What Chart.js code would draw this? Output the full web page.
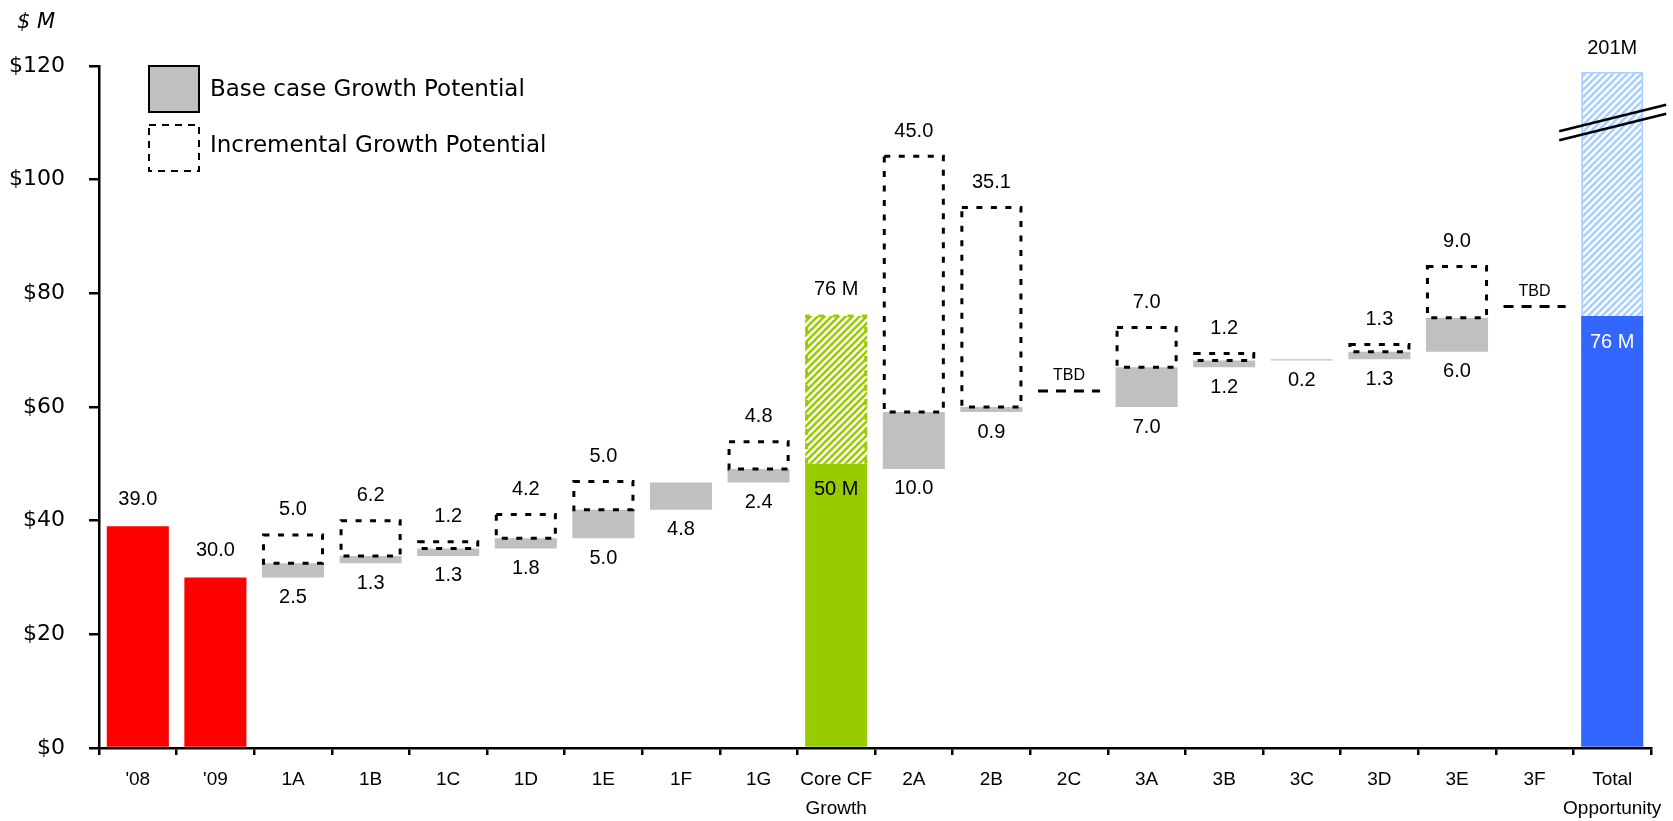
<!DOCTYPE html>
<html>
<head>
<meta charset="utf-8">
<script src="https://cdn.jsdelivr.net/npm/chart.js@4/dist/chart.umd.min.js"></script>
<style>
  html, body { margin: 0; padding: 0; background: #ffffff; }
  #wrap { width: 1673px; height: 821px; }
</style>
</head>
<body>
<div id="wrap"><canvas id="chart" width="1673" height="821"></canvas></div>
<script>
// Categories along the x axis ("\n" splits a label over two lines)
const categories = ["'08", "'09", "1A", "1B", "1C", "1D", "1E", "1F", "1G", "Core CF\nGrowth",
  "2A", "2B", "2C", "3A", "3B", "3C", "3D", "3E", "3F", "Total\nOpportunity"];

// Solid totals ($M): historical years, core cash-flow growth, total opportunity base
const reportedTotals = [39.0, 30.0, null, null, null, null, null, null, null, 50,
  null, null, null, null, null, null, null, null, null, 76];

// Base case growth potential per initiative ($M)
const baseCaseGrowth = [null, null, 2.5, 1.3, 1.3, 1.8, 5.0, 4.8, 2.4, null,
  10.0, 0.9, null, 7.0, 1.2, 0.2, 1.3, 6.0, null, null];

// Incremental growth potential on top of the base case ($M)
const incrementalGrowth = [null, null, 5.0, 6.2, 1.2, 4.2, 5.0, null, 4.8, null,
  45.0, 35.1, null, 7.0, 1.2, null, 1.3, 9.0, null, null];

// Full potential including incremental upside ($M)
const potentialTotals = [null, null, null, null, null, null, null, null, null, 76,
  null, null, null, null, null, null, null, null, null, 201];

// Initiatives whose size is still to be determined (marker level, $M)
const tbdLevels = [null, null, null, null, null, null, null, null, null, null,
  null, null, 62.8, null, null, null, null, null, 77.7, null];

// Y axis tick values
const yTicks = [0, 20, 40, 60, 80, 100, 120];

const AXIS_MAX = 120;
const BREAK_TOP = 119;   // broken bars stop just under the axis top
const BREAK_MARK = 110;  // where the break symbol crosses the bar

// Waterfall ranges: base case steps run on from the '09 level
let level = reportedTotals[1];
const baseRanges = baseCaseGrowth.map(v => {
  if (v == null) return null;
  const r = [level, level + v];
  level += v;
  return r;
});
const incRanges = incrementalGrowth.map((v, i) => v == null ? null : [baseRanges[i][1], baseRanges[i][1] + v]);
const upsideRanges = potentialTotals.map((v, i) => v == null ? null : [reportedTotals[i], Math.min(v, BREAK_TOP)]);
const tbdRanges = tbdLevels.map(v => v == null ? null : [v, v]);

function stripePattern(fg, size, lw) {
  const c = document.createElement('canvas');
  c.width = size; c.height = size;
  const g = c.getContext('2d');
  g.fillStyle = '#ffffff';
  g.fillRect(0, 0, size, size);
  g.strokeStyle = fg;
  g.lineWidth = lw;
  g.beginPath();
  for (let k = -1; k <= 1; k++) {
    g.moveTo(k * size - 1, size + 1);
    g.lineTo(k * size + size + 1, -1);
  }
  g.stroke();
  return g.createPattern(c, 'repeat');
}

const RED = '#ff0000', GREEN = '#99cc00', BLUE = '#3366ff', LIGHT_BLUE = '#a6d0ff', GRAY = '#c0c0c0';
const greenHatch = stripePattern(GREEN, 7, 2.6);
const blueHatch = stripePattern(LIGHT_BLUE, 7, 2.6);

const solidColors = reportedTotals.map((v, i) => i < 2 ? RED : (i === 9 ? GREEN : BLUE));
const upsideFill = potentialTotals.map((v, i) => i === 9 ? greenHatch : blueHatch);
const upsideBorder = potentialTotals.map((v, i) => i === 9 ? 'rgba(0,0,0,0)' : LIGHT_BLUE);
const upsideBorderWidth = potentialTotals.map((v, i) => i === 9 ? 0 : 2);

const LABEL_FONT = '20px "Liberation Sans", Arial, sans-serif';

const waterfallMarks = {
  id: 'waterfallMarks',
  afterDatasetsDraw(chart) {
    const ctx = chart.ctx;
    const ys = chart.scales.y;
    const props = el => el.getProps(['x', 'y', 'base', 'width'], true);
    ctx.save();

    // Incremental potential: dotted outline boxes
    const incMeta = chart.getDatasetMeta(2);
    ctx.strokeStyle = '#000000';
    ctx.lineWidth = 3;
    ctx.setLineDash([6, 8.5]);
    incRanges.forEach((r, i) => {
      if (!r) return;
      const p = props(incMeta.data[i]);
      const t = Math.min(p.y, p.base), h = Math.abs(p.base - p.y);
      ctx.strokeRect(p.x - p.width / 2 + 1.5, t, p.width - 3, h);
    });

    // Core CF upside: dotted green outline
    const upMeta = chart.getDatasetMeta(3);
    const core = props(upMeta.data[9]);
    ctx.strokeStyle = GREEN;
    ctx.beginPath();
    ctx.moveTo(core.x - core.width / 2 + 1.5, core.base);
    ctx.lineTo(core.x - core.width / 2 + 1.5, core.y);
    ctx.lineTo(core.x + core.width / 2 - 1.5, core.y);
    ctx.lineTo(core.x + core.width / 2 - 1.5, core.base);
    ctx.stroke();

    // TBD markers
    const tbdMeta = chart.getDatasetMeta(4);
    ctx.strokeStyle = '#000000';
    ctx.lineWidth = 3;
    ctx.setLineDash([10, 8]);
    tbdRanges.forEach((r, i) => {
      if (!r) return;
      const p = props(tbdMeta.data[i]);
      const y = ys.getPixelForValue(r[0]);
      ctx.beginPath();
      ctx.moveTo(p.x - p.width / 2, y);
      ctx.lineTo(p.x + p.width / 2, y);
      ctx.stroke();
    });
    ctx.setLineDash([]);

    // Break symbol across the total opportunity bar
    const tot = props(upMeta.data[19]);
    const ym = ys.getPixelForValue(BREAK_MARK);
    ctx.lineWidth = 2.5;
    ctx.strokeStyle = '#000000';
    [-4.5, 4.5].forEach(off => {
      ctx.beginPath();
      ctx.moveTo(tot.x - 53, ym + off + 13);
      ctx.lineTo(tot.x + 54, ym + off - 13.5);
      ctx.stroke();
    });

    // Value labels
    ctx.font = LABEL_FONT;
    ctx.textAlign = 'center';
    ctx.textBaseline = 'middle';
    ctx.fillStyle = '#000000';
    const solidMeta = chart.getDatasetMeta(0);
    [0, 1].forEach(i => {
      const p = props(solidMeta.data[i]);
      ctx.fillText(reportedTotals[i].toFixed(1), p.x, p.y - 27);
    });
    const baseMeta = chart.getDatasetMeta(1);
    baseRanges.forEach((r, i) => {
      if (!r) return;
      const p = props(baseMeta.data[i]);
      ctx.fillText(baseCaseGrowth[i].toFixed(1), p.x, Math.max(p.y, p.base) + 20);
    });
    incRanges.forEach((r, i) => {
      if (!r) return;
      const p = props(incMeta.data[i]);
      ctx.fillText(incrementalGrowth[i].toFixed(1), p.x, Math.min(p.y, p.base) - 25);
    });
    ctx.fillText(potentialTotals[9] + ' M', core.x, core.y - 27);
    ctx.fillText(reportedTotals[9] + ' M', core.x, props(solidMeta.data[9]).y + 26);
    ctx.fillText(potentialTotals[19] + 'M', tot.x, tot.y - 23);
    ctx.fillStyle = '#ffffff';
    ctx.fillText(reportedTotals[19] + ' M', tot.x, props(solidMeta.data[19]).y + 26);

    ctx.fillStyle = '#000000';
    ctx.font = '16px "Liberation Sans", Arial, sans-serif';
    tbdRanges.forEach((r, i) => {
      if (!r) return;
      const p = props(tbdMeta.data[i]);
      ctx.fillText('TBD', p.x, ys.getPixelForValue(r[0]) - 15);
    });
    ctx.restore();
  },
  afterDraw(chart) {
    const ctx = chart.ctx;
    ctx.save();
    // Unit caption
    ctx.fillStyle = '#000000';
    ctx.font = 'italic 21px "DejaVu Sans", sans-serif';
    ctx.textAlign = 'left';
    ctx.textBaseline = 'middle';
    ctx.fillText('$ M', 17, 23);

    // Legend
    ctx.fillStyle = GRAY;
    ctx.fillRect(149, 66, 50, 46);
    ctx.strokeStyle = '#000000';
    ctx.lineWidth = 2;
    ctx.strokeRect(149, 66, 50, 46);
    ctx.setLineDash([7, 6]);
    ctx.strokeRect(149, 125, 50, 46);
    ctx.setLineDash([]);
    ctx.fillStyle = '#000000';
    ctx.font = '23px "DejaVu Sans", sans-serif';
    ctx.fillText('Base case Growth Potential', 210, 90);
    ctx.fillText('Incremental Growth Potential', 210, 146);
    ctx.restore();
  }
};

const common = { grouped: false, barPercentage: 0.8, categoryPercentage: 1.0 };

new Chart(document.getElementById('chart'), {
  type: 'bar',
  data: {
    labels: categories.map(c => c.split('\n')),
    datasets: [
      Object.assign({ label: 'Totals', data: reportedTotals, backgroundColor: solidColors }, common),
      Object.assign({ label: 'Base case Growth Potential', data: baseRanges, backgroundColor: GRAY }, common),
      Object.assign({ label: 'Incremental Growth Potential', data: incRanges, backgroundColor: 'rgba(0,0,0,0)' }, common),
      Object.assign({ label: 'Upside', data: upsideRanges, backgroundColor: upsideFill,
        borderColor: upsideBorder, borderWidth: upsideBorderWidth, borderSkipped: 'bottom' }, common),
      Object.assign({ label: 'TBD', data: tbdRanges, backgroundColor: 'rgba(0,0,0,0)' }, common)
    ]
  },
  options: {
    responsive: false,
    animation: false,
    devicePixelRatio: 1,
    layout: { padding: { top: 66, right: 22, left: 0, bottom: 0 } },
    plugins: { legend: { display: false }, tooltip: { enabled: false } },
    scales: {
      x: {
        offset: true,
        grid: { offset: true, drawOnChartArea: false, drawTicks: true, tickLength: 7, color: '#000000', lineWidth: 2.5 },
        border: { display: true, color: '#000000', width: 2.5 },
        ticks: {
          color: '#000000', padding: 11, maxRotation: 0, autoSkip: false,
          font: { family: '"Liberation Sans", Arial, sans-serif', size: 19, lineHeight: 1.5 }
        },
        afterFit(scale) { scale.height = 73; }
      },
      y: {
        min: 0, max: AXIS_MAX,
        afterBuildTicks(scale) { scale.ticks = yTicks.map(v => ({ value: v })); },
        grid: { drawOnChartArea: false, drawTicks: true, tickLength: 10, color: '#000000', lineWidth: 2.5 },
        border: { display: true, color: '#000000', width: 2.5 },
        ticks: {
          color: '#000000', padding: 24,
          font: { family: '"DejaVu Sans", sans-serif', size: 22 },
          callback: v => '$' + v
        },
        afterFit(scale) { scale.width = 99; }
      }
    }
  },
  plugins: [waterfallMarks]
});
</script>
</body>
</html>
